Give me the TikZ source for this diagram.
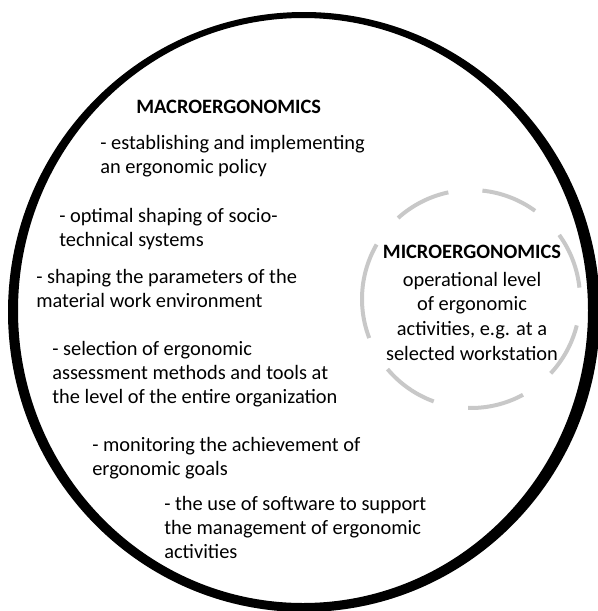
\documentclass[tikz,border=0pt]{standalone}
\usepackage{fontspec}
\setmainfont{Carlito}
\definecolor{ringgray}{HTML}{C8C8C8}
\tikzset{
  outer ring/.style={fill=black, even odd rule},
  micro ring/.style={draw=ringgray, line width=3pt},
  item text/.style={font=\fontsize{15.3}{18}\selectfont, align=left,
    anchor=base west, inner sep=0pt},
  head text/.style={item text, font=\fontsize{15.3}{18}\selectfont\bfseries},
  micro text/.style={font=\fontsize{15.3}{18.4}\selectfont, align=center,
    anchor=base, inner sep=0pt},
}

\begin{document}
\begin{tikzpicture}[x=0.75pt, y=-0.75pt]
  \useasboundingbox (0,0) rectangle (598,611);
  \clip (0,0) rectangle (598,611);
  % outer field: macroergonomics
  \fill[outer ring] (304,312) ellipse [x radius=296, y radius=300]
                    (303,310.5) ellipse [x radius=285, y radius=292.5];
  % inner field: microergonomics, broken ring
  \coordinate (microcentre) at (471,299);
  \foreach \from/\to in {228/258, 276/306, 324/354, 374/403,
                         61.5/91.5, 110/140, 159/210}
    \draw[micro ring] (microcentre) ++(\from:109)
      arc [start angle=\from, end angle=\to, radius=109];

  % anchors sit on the baseline of each block's last line
  \node[head text] (macrohead) at (136,113) {MACROERGONOMICS};
  \node[item text] (policy) at (100,173)
    {- establishing and implementing\\an ergonomic policy};
  \node[item text] (sociotech) at (59,246)
    {- optimal shaping of socio-\\technical systems};
  \node[item text] (environment) at (36,307)
    {- shaping the parameters of the\\material work environment};
  \node[item text] (methods) at (52,403)
    {- selection of ergonomic\\assessment methods and tools at\\the level of the entire organization};
  \node[item text] (goals) at (92,475)
    {- monitoring the achievement of\\ergonomic goals};
  \node[item text] (software) at (164,558)
    {- the use of software to support\\the management of ergonomic\\activities};

  \node[micro text] (micro) at (472,360)
    {\textbf{MICROERGONOMICS}\\[2.25pt]operational level\\of ergonomic\\activities, e.g. at a\\selected workstation};
\end{tikzpicture}
\end{document}
